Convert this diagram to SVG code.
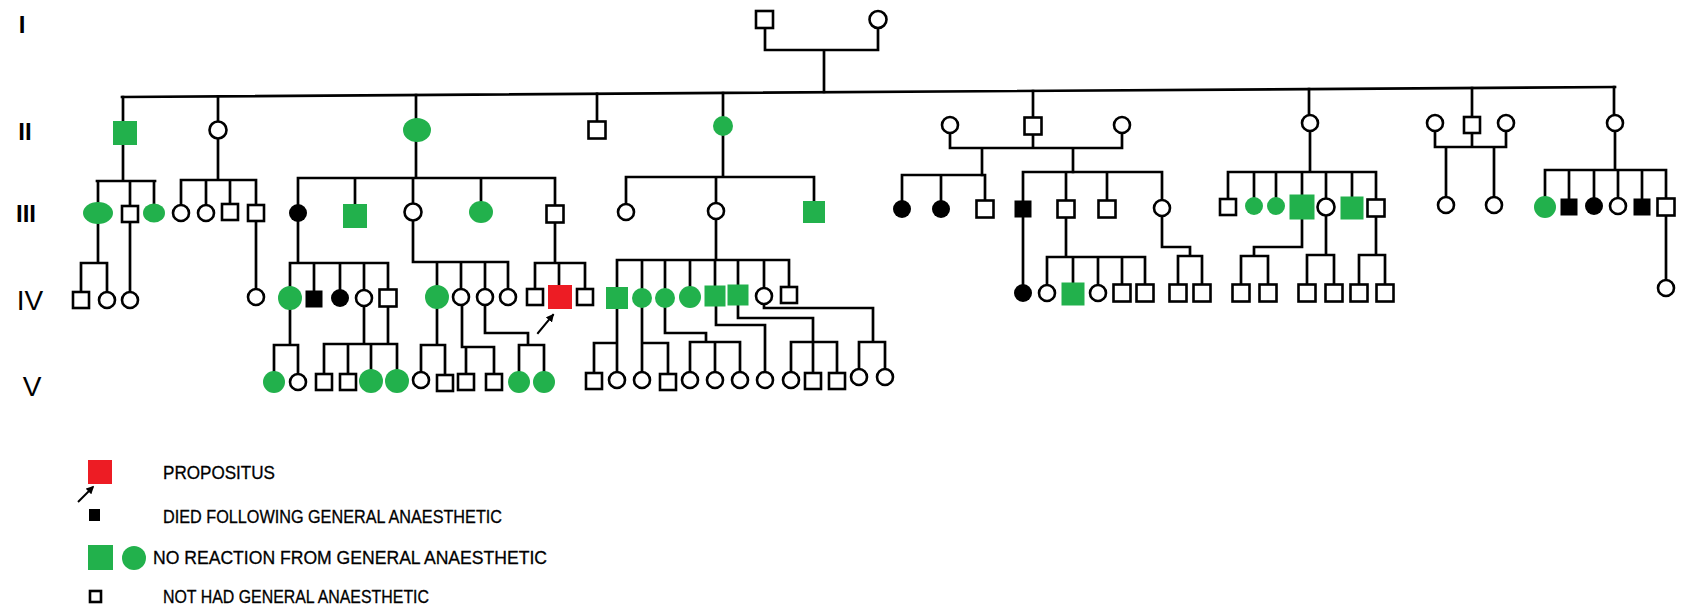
<svg xmlns="http://www.w3.org/2000/svg" width="1682" height="609" viewBox="0 0 1682 609">
<style>
.ln{stroke:#000;stroke-width:2.7;fill:none;stroke-linecap:square}
.o{fill:#fff;stroke:#000;stroke-width:2.6}
.g{fill:#22b14c}
.b{fill:#000}
.r{fill:#ed1c24}
.gen{font-family:"Liberation Sans",Arial,sans-serif;font-weight:bold;font-size:24px;fill:#000;text-anchor:middle}
.gen2{font-family:"Liberation Sans",Arial,sans-serif;font-size:28px;fill:#000;text-anchor:middle}
.leg{font-family:"Liberation Sans",Arial,sans-serif;font-size:18px;fill:#000;stroke:#000;stroke-width:0.3}
</style>
<defs>
<marker id="ah" viewBox="0 0 10 10" refX="8" refY="5" markerWidth="4" markerHeight="4" orient="auto"><path d="M0 0 L10 5 L0 10 z" fill="#000"/></marker>
</defs>
<rect width="1682" height="609" fill="#fff"/>
<g id="generation-labels">
<text class="gen" x="22" y="33" font-weight="normal">I</text>
<text class="gen" x="25" y="140">II</text>
<text class="gen" x="26" y="222">III</text>
<text class="gen2" x="30" y="310">IV</text>
<text class="gen2" x="32" y="396">V</text>
</g>
<g id="connectors" class="ln">
<path d="M765 28V50M878 28V50M765 50H878M824 50V92"/>
<path d="M122 97L1615 87"/>
<path d="M123 97V121M218 96.4V121.5M416 95V118M597 93.8V121.5M723 93V116M1033 91V117.5M1309 89.1V115M1472 88V117M1614 87V115"/>
<path d="M950 133V148M1033 134.5V148M1122 133V148M950 148H1122M982 148V175M1073 148V172"/>
<path d="M1435 131V147M1472 133V147M1506 131V147M1435 147H1506M1446 147V197M1494 147V197"/>
<path d="M123 145V181M97 181H155M98 181V202M130 181V206M154 181V204"/>
<path d="M218 138.5V180M181 180H256M181 180V205M206 180V205M230 180V204M256 180V205"/>
<path d="M416 142V178M298 178H555M298 178V204M355 178V204M413 178V203.5M481 178V201M555 178V205.5"/>
<path d="M723 136V177M626 177H814M626 177V204M716 177V203M814 177V201"/>
<path d="M902 175H985M902 175V200M941 175V200M985 175V200.5"/>
<path d="M1023 172H1162M1023 172V200.5M1066 172V200.5M1107 172V200.5M1162 172V200"/>
<path d="M1310 131V172M1228 172H1376M1228 172V199M1254 172V197M1276 172V197M1302 172V194.5M1326 172V198.5M1352 172V196.5M1376 172V199.5"/>
<path d="M1615 131V170M1545 170H1666M1545 170V196M1569 170V198.5M1594 170V197M1618 170V198M1642 170V198.5M1666 170V198.5"/>
<path d="M98 224V263M81 263H107M81 263V292M107 263V292"/>
<path d="M130 222V292M256 221V289"/>
<path d="M298 222V263M290 263H388M290 263V286M314 263V290.5M340 263V289M364 263V290M388 263V289.5"/>
<path d="M413 220.5V262H508M437 262V285M461 262V289M485 262V289M508 262V289"/>
<path d="M555 222.5V263M535 263H585M535 263V289M559 263V285M585 263V289"/>
<path d="M716 219V260M617 260H789M617 260V287M642 260V288M665 260V288M690 260V286M715 260V285.5M738 260V284.5M764 260V288M789 260V287"/>
<path d="M1023 217.5V284"/>
<path d="M1066 217.5V257M1047 257H1145M1047 257V285M1073 257V282.5M1098 257V285M1122 257V284.5M1145 257V284.5"/>
<path d="M1162 216V247H1190V256M1178 256H1202M1178 256V284.5M1202 256V284.5"/>
<path d="M1302 219.5V247H1254V256M1241 256H1268M1241 256V284.5M1268 256V284.5"/>
<path d="M1326 215.5V255M1307 255H1334M1307 255V284.5M1334 255V284.5"/>
<path d="M1376 216.5V255M1359 255H1385M1359 255V284.5M1385 255V284.5"/>
<path d="M1666 215.5V280"/>
<path d="M290 310V345M274 345H298M274 345V371M298 345V374"/>
<path d="M364 306V344M388 306.5V344M324 344H397M324 344V374M348 344V374M371 344V369M397 344V369"/>
<path d="M437 309V345M421 345H445M421 345V372M445 345V375"/>
<path d="M462 305V347H494M466 347V374M494 347V374"/>
<path d="M485 305V333H528V345M519 345H544M519 345V371M544 345V371"/>
<path d="M617 309V372M594 343H617M594 343V373"/>
<path d="M642 308V372M642 343H668M668 343V374"/>
<path d="M665 308V333H706V342M690 342H740M690 342V372M715 342V372M740 342V372"/>
<path d="M716 306.5V325H765V372"/>
<path d="M738 305.5V318H813V342M791 342H837M791 342V372M813 342V373M837 342V373"/>
<path d="M764 304V308H873V342M859 342H885M859 342V369M885 342V369"/>
<path d="M538 333L553 315" stroke-width="2" marker-end="url(#ah)"/>
</g>
<g id="I-1"><rect class="o" x="756" y="11" width="17" height="17"/></g>
<g id="I-2"><circle class="o" cx="878" cy="19.5" r="8.5"/></g>
<g id="II-1"><rect class="g" x="113" y="121" width="24" height="24"/></g>
<g id="II-2"><circle class="o" cx="218" cy="130" r="8.5"/></g>
<g id="II-3"><ellipse class="g" cx="417" cy="130" rx="14" ry="12"/></g>
<g id="II-4"><rect class="o" x="588.5" y="121.5" width="17" height="17"/></g>
<g id="II-5"><circle class="g" cx="723" cy="126" r="10"/></g>
<g id="II-6a"><circle class="o" cx="950" cy="125" r="8"/></g>
<g id="II-6"><rect class="o" x="1024.5" y="117.5" width="17" height="17"/></g>
<g id="II-6b"><circle class="o" cx="1122" cy="125" r="8"/></g>
<g id="II-7"><circle class="o" cx="1310" cy="123" r="8"/></g>
<g id="II-8a"><circle class="o" cx="1435" cy="123" r="8"/></g>
<g id="II-8"><rect class="o" x="1464" y="117" width="16" height="16"/></g>
<g id="II-8b"><circle class="o" cx="1506" cy="123" r="8"/></g>
<g id="II-9"><circle class="o" cx="1615" cy="123" r="8"/></g>
<g id="III-1"><ellipse class="g" cx="98" cy="213" rx="15" ry="11"/></g>
<g id="III-2"><rect class="o" x="122" y="206" width="16" height="16"/></g>
<g id="III-3"><ellipse class="g" cx="154" cy="213" rx="11" ry="9.5"/></g>
<g id="III-4"><circle class="o" cx="181" cy="213" r="8"/></g>
<g id="III-5"><circle class="o" cx="206" cy="213" r="8"/></g>
<g id="III-6"><rect class="o" x="222" y="204" width="16" height="16"/></g>
<g id="III-7"><rect class="o" x="248" y="205" width="16" height="16"/></g>
<g id="III-8"><circle class="b" cx="298" cy="213" r="9"/></g>
<g id="III-9"><rect class="g" x="343" y="204" width="24" height="24"/></g>
<g id="III-10"><circle class="o" cx="413" cy="212" r="8.5"/></g>
<g id="III-11"><ellipse class="g" cx="481" cy="212" rx="12" ry="11"/></g>
<g id="III-12"><rect class="o" x="546.5" y="205.5" width="17" height="17"/></g>
<g id="III-13"><circle class="o" cx="626" cy="212" r="8"/></g>
<g id="III-14"><circle class="o" cx="716" cy="211" r="8"/></g>
<g id="III-15"><rect class="g" x="803" y="201" width="22" height="22"/></g>
<g id="III-16"><circle class="b" cx="902" cy="209" r="9"/></g>
<g id="III-17"><circle class="b" cx="941" cy="209" r="9"/></g>
<g id="III-18"><rect class="o" x="976.5" y="200.5" width="17" height="17"/></g>
<g id="III-19"><rect class="b" x="1014.5" y="200.5" width="17" height="17"/></g>
<g id="III-20"><rect class="o" x="1057.5" y="200.5" width="17" height="17"/></g>
<g id="III-21"><rect class="o" x="1098.5" y="200.5" width="17" height="17"/></g>
<g id="III-22"><circle class="o" cx="1162" cy="208" r="8"/></g>
<g id="III-23"><rect class="o" x="1220" y="199" width="16" height="16"/></g>
<g id="III-24"><circle class="g" cx="1254" cy="206" r="9"/></g>
<g id="III-25"><circle class="g" cx="1276" cy="206" r="9"/></g>
<g id="III-26"><rect class="g" x="1289.5" y="194.5" width="25" height="25"/></g>
<g id="III-27"><circle class="o" cx="1326" cy="207" r="8.5"/></g>
<g id="III-28"><rect class="g" x="1340.5" y="196.5" width="23" height="23"/></g>
<g id="III-29"><rect class="o" x="1367.5" y="199.5" width="17" height="17"/></g>
<g id="III-30"><circle class="o" cx="1446" cy="205" r="8"/></g>
<g id="III-31"><circle class="o" cx="1494" cy="205" r="8"/></g>
<g id="III-32"><circle class="g" cx="1545" cy="207" r="11"/></g>
<g id="III-33"><rect class="b" x="1560.5" y="198.5" width="17" height="17"/></g>
<g id="III-34"><circle class="b" cx="1594" cy="206" r="9"/></g>
<g id="III-35"><circle class="o" cx="1618" cy="206" r="8"/></g>
<g id="III-36"><rect class="b" x="1633.5" y="198.5" width="17" height="17"/></g>
<g id="III-37"><rect class="o" x="1657.5" y="198.5" width="17" height="17"/></g>
<g id="IV-1"><rect class="o" x="73" y="292" width="16" height="16"/></g>
<g id="IV-2"><circle class="o" cx="107" cy="300" r="8"/></g>
<g id="IV-3"><circle class="o" cx="130" cy="300" r="8"/></g>
<g id="IV-4"><circle class="o" cx="256" cy="297" r="8"/></g>
<g id="IV-5"><circle class="g" cx="290" cy="298" r="12"/></g>
<g id="IV-6"><rect class="b" x="305.5" y="290.5" width="17" height="17"/></g>
<g id="IV-7"><circle class="b" cx="340" cy="298" r="9"/></g>
<g id="IV-8"><circle class="o" cx="364" cy="298" r="8"/></g>
<g id="IV-9"><rect class="o" x="379.5" y="289.5" width="17" height="17"/></g>
<g id="IV-10"><circle class="g" cx="437" cy="297" r="12"/></g>
<g id="IV-11"><circle class="o" cx="461" cy="297" r="8"/></g>
<g id="IV-12"><circle class="o" cx="485" cy="297" r="8"/></g>
<g id="IV-13"><circle class="o" cx="508" cy="297" r="8"/></g>
<g id="IV-14"><rect class="o" x="527" y="289" width="16" height="16"/></g>
<g id="IV-15"><rect class="r" x="548" y="285" width="24" height="24"/></g>
<g id="IV-16"><rect class="o" x="577" y="289" width="16" height="16"/></g>
<g id="IV-17"><rect class="g" x="606" y="287" width="22" height="22"/></g>
<g id="IV-18"><circle class="g" cx="642" cy="298" r="10"/></g>
<g id="IV-19"><circle class="g" cx="665" cy="298" r="10"/></g>
<g id="IV-20"><circle class="g" cx="690" cy="297" r="11"/></g>
<g id="IV-21"><rect class="g" x="704.5" y="285.5" width="21" height="21"/></g>
<g id="IV-22"><rect class="g" x="727.5" y="284.5" width="21" height="21"/></g>
<g id="IV-23"><circle class="o" cx="764" cy="296" r="8"/></g>
<g id="IV-24"><rect class="o" x="781" y="287" width="16" height="16"/></g>
<g id="IV-25"><circle class="b" cx="1023" cy="293" r="9"/></g>
<g id="IV-26"><circle class="o" cx="1047" cy="293" r="8"/></g>
<g id="IV-27"><rect class="g" x="1061.5" y="282.5" width="23" height="23"/></g>
<g id="IV-28"><circle class="o" cx="1098" cy="293" r="8"/></g>
<g id="IV-29"><rect class="o" x="1113.5" y="284.5" width="17" height="17"/></g>
<g id="IV-30"><rect class="o" x="1136.5" y="284.5" width="17" height="17"/></g>
<g id="IV-31"><rect class="o" x="1169.5" y="284.5" width="17" height="17"/></g>
<g id="IV-32"><rect class="o" x="1193.5" y="284.5" width="17" height="17"/></g>
<g id="IV-33"><rect class="o" x="1232.5" y="284.5" width="17" height="17"/></g>
<g id="IV-34"><rect class="o" x="1259.5" y="284.5" width="17" height="17"/></g>
<g id="IV-35"><rect class="o" x="1298.5" y="284.5" width="17" height="17"/></g>
<g id="IV-36"><rect class="o" x="1325.5" y="284.5" width="17" height="17"/></g>
<g id="IV-37"><rect class="o" x="1350.5" y="284.5" width="17" height="17"/></g>
<g id="IV-38"><rect class="o" x="1376.5" y="284.5" width="17" height="17"/></g>
<g id="IV-39"><circle class="o" cx="1666" cy="288" r="8"/></g>
<g id="V-1"><circle class="g" cx="274" cy="382" r="11"/></g>
<g id="V-2"><circle class="o" cx="298" cy="382" r="8"/></g>
<g id="V-3"><rect class="o" x="316" y="374" width="16" height="16"/></g>
<g id="V-4"><rect class="o" x="340" y="374" width="16" height="16"/></g>
<g id="V-5"><circle class="g" cx="371" cy="381" r="12"/></g>
<g id="V-6"><circle class="g" cx="397" cy="381" r="12"/></g>
<g id="V-7"><circle class="o" cx="421" cy="380" r="8"/></g>
<g id="V-8"><rect class="o" x="437" y="375" width="16" height="16"/></g>
<g id="V-9"><rect class="o" x="458" y="374" width="16" height="16"/></g>
<g id="V-10"><rect class="o" x="486" y="374" width="16" height="16"/></g>
<g id="V-11"><circle class="g" cx="519" cy="382" r="11"/></g>
<g id="V-12"><circle class="g" cx="544" cy="382" r="11"/></g>
<g id="V-13"><rect class="o" x="586" y="373" width="16" height="16"/></g>
<g id="V-14"><circle class="o" cx="617" cy="380" r="8"/></g>
<g id="V-15"><circle class="o" cx="642" cy="380" r="8"/></g>
<g id="V-16"><rect class="o" x="660" y="374" width="16" height="16"/></g>
<g id="V-17"><circle class="o" cx="690" cy="380" r="8"/></g>
<g id="V-18"><circle class="o" cx="715" cy="380" r="8"/></g>
<g id="V-19"><circle class="o" cx="740" cy="380" r="8"/></g>
<g id="V-20"><circle class="o" cx="765" cy="380" r="8"/></g>
<g id="V-21"><circle class="o" cx="791" cy="380" r="8"/></g>
<g id="V-22"><rect class="o" x="805" y="373" width="16" height="16"/></g>
<g id="V-23"><rect class="o" x="829" y="373" width="16" height="16"/></g>
<g id="V-24"><circle class="o" cx="859" cy="377" r="8"/></g>
<g id="V-25"><circle class="o" cx="885" cy="377" r="8"/></g>
<g id="legend">
<g id="legend-propositus"><rect class="r" x="88" y="460" width="24" height="24"/><path d="M78 502L93 487" stroke="#000" stroke-width="2" marker-end="url(#ah)"/><text class="leg" x="163" y="479" textLength="112" lengthAdjust="spacingAndGlyphs">PROPOSITUS</text></g>
<g id="legend-died"><rect class="b" x="89" y="509" width="11" height="12"/><text class="leg" x="163" y="523" textLength="339" lengthAdjust="spacingAndGlyphs">DIED FOLLOWING GENERAL ANAESTHETIC</text></g>
<g id="legend-noreaction"><rect class="g" x="88" y="545" width="25" height="25"/><circle class="g" cx="134" cy="558" r="12"/><text class="leg" x="153" y="564" textLength="394" lengthAdjust="spacingAndGlyphs">NO REACTION FROM GENERAL ANAESTHETIC</text></g>
<g id="legend-nothad"><rect class="o" x="90" y="591" width="11" height="11" stroke-width="2"/><text class="leg" x="163" y="603" textLength="266" lengthAdjust="spacingAndGlyphs">NOT HAD GENERAL ANAESTHETIC</text></g>
</g>
</svg>
